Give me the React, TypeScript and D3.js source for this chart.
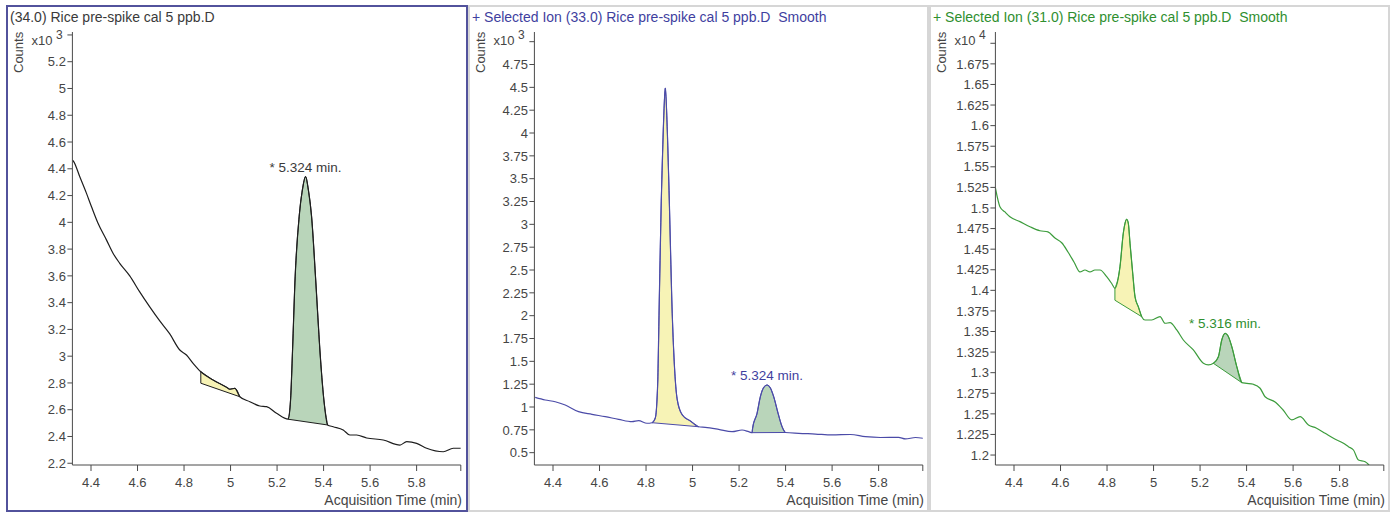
import React from 'react';
import * as d3 from 'd3';

// shared x axis (minutes)
const timeDomain: [number, number] = [4.32, 5.99];
const xTicks = [4.4, 4.6, 4.8, 5, 5.2, 5.4, 5.6, 5.8];

const titles = [
  '(34.0) Rice pre-spike cal 5 ppb.D',
  '+ Selected Ion (33.0) Rice pre-spike cal 5 ppb.D  Smooth',
  '+ Selected Ion (31.0) Rice pre-spike cal 5 ppb.D  Smooth',
];
const peakLabels = ['* 5.324 min.', '* 5.324 min.', '* 5.316 min.'];
const exponents = [3, 3, 4];

// panel 1 : (34.0)  counts x10^3
const p1Time = [4.32, 4.3256, 4.3514, 4.3802, 4.4018, 4.4302, 4.4663, 4.4947, 4.5235, 4.5666, 4.6095, 4.6526, 4.6956, 4.7387, 4.7818, 4.8105, 4.8389, 4.8721, 4.925, 4.9827, 4.9969, 5.0184, 5.0399, 5.0829, 5.126, 5.1548, 5.1978, 5.2477, 5.258, 5.2666, 5.2766, 5.295, 5.3088, 5.3226, 5.3346, 5.3484, 5.3669, 5.3841, 5.4013, 5.4173, 5.4413, 5.4844, 5.5132, 5.542, 5.5851, 5.6565, 5.7284, 5.7572, 5.8002, 5.8432, 5.9147, 5.9577, 5.99];
const p1Counts = [4.466, 4.454, 4.342, 4.218, 4.118, 3.993, 3.869, 3.769, 3.694, 3.6, 3.48, 3.368, 3.263, 3.166, 3.046, 3.009, 2.947, 2.884, 2.822, 2.768, 2.753, 2.76, 2.697, 2.66, 2.628, 2.623, 2.573, 2.529, 2.673, 3.046, 3.547, 4.043, 4.242, 4.342, 4.242, 4.043, 3.547, 3.046, 2.673, 2.486, 2.473, 2.449, 2.411, 2.411, 2.389, 2.374, 2.336, 2.361, 2.349, 2.312, 2.286, 2.312, 2.312];
const p1Domain: [number, number] = [2.187, 5.422];
const p1YTicks = [2.2, 2.4, 2.6, 2.8, 3, 3.2, 3.4, 3.6, 3.8, 4, 4.2, 4.4, 4.6, 4.8, 5, 5.2];
const p1TopTick = 5.4;
// [start, end, baseline at start, baseline at end]
const p1Regions = [[4.8721, 5.0399, 2.798, 2.697], [5.2477, 5.4173, 2.529, 2.486]];

// panel 2 : ion 33.0  counts x10^3
const p2Time = [4.3234, 4.3665, 4.4095, 4.4525, 4.5098, 4.5674, 4.6247, 4.6819, 4.7395, 4.7679, 4.8041, 4.8256, 4.8398, 4.8471, 4.8506, 4.857, 4.8656, 4.8742, 4.8828, 4.8914, 4.9, 4.9108, 4.9258, 4.9344, 4.9559, 4.9904, 5.0261, 5.0549, 5.1122, 5.1698, 5.2128, 5.2413, 5.2559, 5.2584, 5.2774, 5.2916, 5.3045, 5.3204, 5.3346, 5.3488, 5.3677, 5.385, 5.3992, 5.4564, 5.5282, 5.6001, 5.6788, 5.7434, 5.8079, 5.8854, 5.9155, 5.9585, 5.9929];
const p2Counts = [1.106, 1.077, 1.058, 1.022, 0.949, 0.92, 0.894, 0.865, 0.839, 0.85, 0.822, 0.828, 0.88, 1.077, 1.296, 2.172, 3.267, 4.033, 4.493, 4.033, 3.267, 2.172, 1.296, 1.077, 0.913, 0.847, 0.784, 0.778, 0.756, 0.73, 0.748, 0.73, 0.719, 0.77, 0.931, 1.113, 1.208, 1.241, 1.208, 1.113, 0.931, 0.784, 0.721, 0.712, 0.704, 0.694, 0.699, 0.675, 0.666, 0.668, 0.65, 0.666, 0.657];
const p2Domain: [number, number] = [0.365, 5.106];
const p2YTicks = [0.5, 0.75, 1, 1.25, 1.5, 1.75, 2, 2.25, 2.5, 2.75, 3, 3.25, 3.5, 3.75, 4, 4.25, 4.5, 4.75];
const p2TopTick = 5;
const p2Regions = [[4.8256, 5.0261, 0.828, 0.784], [5.2559, 5.3992, 0.719, 0.721]];

// panel 3 : ion 31.0  counts x10^4
const p3Time = [4.32, 4.3394, 4.3609, 4.3824, 4.4254, 4.4684, 4.5115, 4.5459, 4.576, 4.6061, 4.632, 4.6578, 4.6836, 4.7051, 4.7266, 4.7481, 4.7697, 4.7985, 4.8213, 4.8339, 4.8557, 4.8699, 4.8773, 4.8846, 4.8915, 4.8988, 4.9104, 4.9203, 4.9345, 4.9491, 4.9633, 4.9921, 5.0279, 5.0494, 5.0709, 5.0997, 5.1281, 5.1711, 5.2142, 5.2357, 5.2572, 5.2787, 5.2933, 5.3075, 5.3204, 5.3364, 5.3579, 5.3794, 5.4009, 5.4293, 5.4581, 5.4796, 5.5226, 5.5571, 5.5945, 5.6302, 5.666, 5.6991, 5.7378, 5.7735, 5.8166, 5.8381, 5.8596, 5.8811, 5.9099, 5.9241, 5.94];
const p3Counts = [1.5243, 1.5016, 1.4952, 1.4894, 1.4834, 1.4773, 1.4724, 1.4709, 1.4636, 1.4575, 1.4466, 1.4344, 1.4223, 1.4247, 1.4223, 1.4247, 1.4247, 1.4166, 1.4077, 1.4025, 1.4287, 1.4693, 1.4814, 1.4863, 1.4814, 1.4571, 1.4207, 1.3923, 1.3801, 1.368, 1.364, 1.364, 1.368, 1.36, 1.3607, 1.3519, 1.3397, 1.3276, 1.3114, 1.3094, 1.3114, 1.3194, 1.3397, 1.3478, 1.3446, 1.3316, 1.3073, 1.2879, 1.2871, 1.2859, 1.2811, 1.2708, 1.2644, 1.2547, 1.2426, 1.2466, 1.2365, 1.2328, 1.2264, 1.2203, 1.2143, 1.2101, 1.2061, 1.194, 1.1919, 1.1885, 1.1818];
const p3Domain: [number, number] = [1.1879, 1.7137];
const p3YTicks = [1.2, 1.225, 1.25, 1.275, 1.3, 1.325, 1.35, 1.375, 1.4, 1.425, 1.45, 1.475, 1.5, 1.525, 1.55, 1.575, 1.6, 1.625, 1.65, 1.675];
const p3TopTick = 1.7;
const p3Regions = [[4.8339, 4.9491, 1.388, 1.368], [5.2572, 5.3794, 1.3114, 1.2879]];

const panels = [
  { time: p1Time, counts: p1Counts, domain: p1Domain, ticks: p1YTicks, top: p1TopTick, regions: p1Regions },
  { time: p2Time, counts: p2Counts, domain: p2Domain, ticks: p2YTicks, top: p2TopTick, regions: p2Regions },
  { time: p3Time, counts: p3Counts, domain: p3Domain, ticks: p3YTicks, top: p3TopTick, regions: p3Regions },
];

const panelLeft = [7, 469, 930];
const traceColor = ['#1e1e1e', '#4b4ba8', '#3c9c3c'];
const titleColor = ['#3a3a3a', '#3f3fa0', '#2f8f2f'];
const borderColor = ['#52529c', '#d6d6d6', '#d6d6d6'];
const regionFill = ['#f7f3b6', '#b9d5ba'];
const font = '"Liberation Sans", Arial, sans-serif';
const axisColor = '#4a4a4a';
const labelColor = '#454545';

const fmt = (v: number) => String(+v.toFixed(3));

const App = () => {
  const yTop = 32;
  const yBot = 465;
  return (
    <svg width={1399} height={514} style={{ position: 'absolute', left: 0, top: 0, background: '#fff' }} fontFamily={font}>
      {panels.map((p, i) => {
        const left = panelLeft[i];
        const x0 = left + 65.4;
        const x1 = left + 453.8;
        const x = d3.scaleLinear().domain(timeDomain).range([x0, x1]);
        const y = d3.scaleLinear().domain(p.domain).range([yBot, yTop]);
        const pts: [number, number][] = p.time.map((t, k) => [t, p.counts[k]]);
        const line = d3.line<[number, number]>()
          .x(d => x(d[0]))
          .y(d => y(d[1]))
          .curve(d3.curveMonotoneX);
        const clipId = `clip${i}`;
        const green = p.regions[1];
        const greenSeg = pts.filter(d => d[0] >= green[0] - 1e-6 && d[0] <= green[1] + 1e-6);
        const apex = greenSeg.reduce((a, b) => (b[1] > a[1] ? b : a));
        return (
          <g key={i}>
            <rect x={left} y={6} width={i === 0 ? 460 : 459} height={505} fill="#fff" stroke={borderColor[i]} strokeWidth={2} />
            <defs>
              <clipPath id={clipId}>
                <rect x={x0} y={yTop} width={x1 - x0} height={yBot - yTop} />
              </clipPath>
            </defs>
            <text x={left + 3} y={22} fontSize={14} fill={titleColor[i]} style={{ whiteSpace: 'pre' }}>{titles[i]}</text>

            <g clipPath={`url(#${clipId})`}>
              {p.regions.map(([s, e, b0, b1], k) => {
                const seg = pts.filter(d => d[0] >= s - 1e-6 && d[0] <= e + 1e-6);
                const d = `${line(seg)}L${x(e)},${y(b1)}L${x(s)},${y(b0)}Z`;
                return <path key={k} d={d} fill={regionFill[k]} stroke={traceColor[i]} strokeWidth={1} strokeLinejoin="round" />;
              })}
              <path d={line(pts) || ''} fill="none" stroke={traceColor[i]} strokeWidth={1.2} strokeLinejoin="round" />
            </g>

            <text x={x(apex[0])} y={y(apex[1]) - 5} fontSize={13.5} textAnchor="middle" fill={titleColor[i]}>{peakLabels[i]}</text>

            {/* y axis */}
            <line x1={x0} x2={x0} y1={yTop} y2={yBot} stroke={axisColor} strokeWidth={1} />
            {[...p.ticks, p.top].map(v => (
              <line key={v} x1={x0 - 5} x2={x0} y1={y(v)} y2={y(v)} stroke={axisColor} strokeWidth={1} />
            ))}
            {p.ticks.map(v => (
              <text key={v} x={x0 - 6.5} y={y(v)} dy="0.36em" fontSize={13} textAnchor="end" fill={labelColor}>{fmt(v)}</text>
            ))}
            <text x={left + 45.5} y={45} fontSize={13} textAnchor="end" fill={labelColor}>x10</text>
            <text x={left + 49} y={39} fontSize={12} fill={labelColor}>{exponents[i]}</text>
            <text transform={`translate(${left + 15.5},73) rotate(-90)`} fontSize={13} fill={labelColor}>Counts</text>

            {/* x axis */}
            <line x1={x0} x2={x1} y1={yBot} y2={yBot} stroke={axisColor} strokeWidth={1} />
            {[...xTicks, timeDomain[1]].map(t => (
              <line key={t} x1={x(t)} x2={x(t)} y1={yBot} y2={yBot + 6} stroke={axisColor} strokeWidth={1} />
            ))}
            {xTicks.map(t => (
              <text key={t} x={x(t)} y={yBot + 22} fontSize={13} textAnchor="middle" fill={labelColor}>{fmt(t)}</text>
            ))}
            <text x={left + 455} y={505} fontSize={14} textAnchor="end" fill={labelColor}>Acquisition Time (min)</text>
          </g>
        );
      })}
    </svg>
  );
};

export default App;
